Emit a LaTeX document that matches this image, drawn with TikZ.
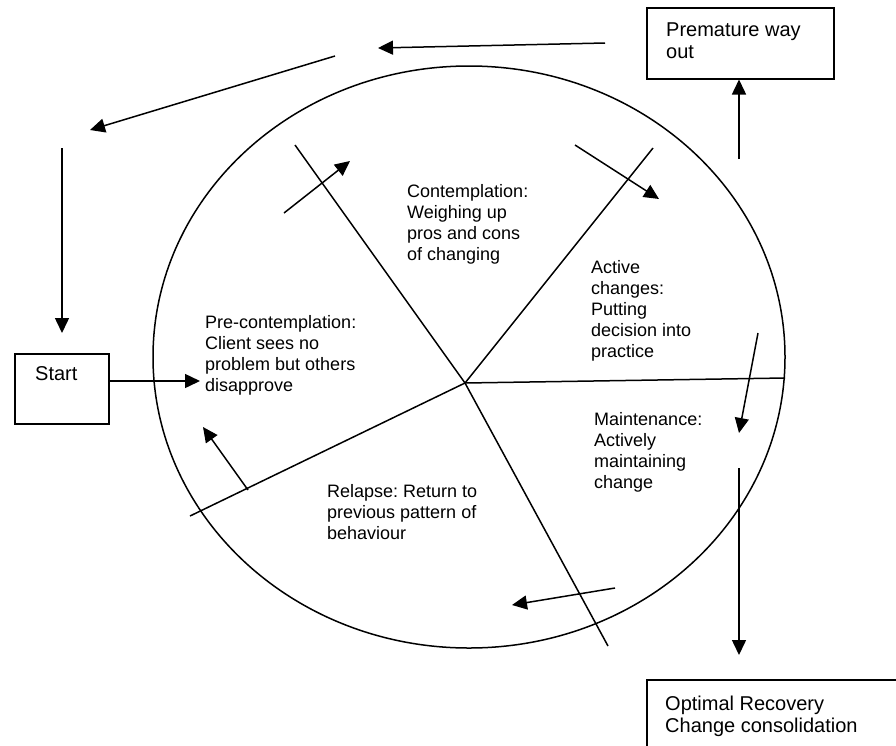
\documentclass[tikz,border=0pt]{standalone}
\usepackage{fontspec}
\setmainfont{Liberation Sans}
\usetikzlibrary{arrows.meta}
\frenchspacing
\tikzset{
  ln/.style={line width=1.5pt, black},
  arr/.style={ln, -{Triangle[length=15pt,width=14pt]}},
  boxshape/.style={draw, line width=1.5pt, inner sep=0pt, anchor=north west},
  lbl/.style={anchor=base west, inner sep=0pt, font=\fontsize{18}{21}\selectfont},
  blbl/.style={anchor=base west, inner sep=0pt, font=\fontsize{20}{22.5}\selectfont},
}
\newcommand{\lines}[1]{\begin{tabular}[t]{@{}l@{}}#1\end{tabular}}
\begin{document}
\begin{tikzpicture}[x=1pt,y=-1pt]
\useasboundingbox (0,0) rectangle (896,745);
\clip (0,0) rectangle (896,745);
\fill[white] (0,0) rectangle (896,745);

% circle
\draw[ln] (469,357) ellipse [x radius=316pt, y radius=291pt];

% spokes
\coordinate (hub) at (465,383);
\coordinate (sUL) at (295,145);
\coordinate (sUR) at (653,148);
\coordinate (sR) at (785,378);
\coordinate (sLL) at (190,516);
\coordinate (sLR) at (608,646);
\draw[ln] (sUL) -- (hub) -- (sLR);
\draw[ln] (sUR) -- (hub);
\draw[ln] (sR) -- (hub);
\draw[ln] (sLL) -- (hub);

% boxes
\node[boxshape, minimum width=187pt, minimum height=71pt] (premature) at (646,7) {};
\node[blbl] (prematuretxt) at (666,36) {\lines{Premature way\\ out}};
\node[boxshape, minimum width=94pt, minimum height=70pt] (start) at (14,353) {};
\node[blbl] (starttxt) at (35,380) {Start};
\node[boxshape, minimum width=300pt, minimum height=120pt] (optimal) at (646,679) {};
\node[blbl] (optimaltxt) at (665,710) {\lines{Optimal Recovery\\ Change consolidation}};

% stage labels
\node[lbl] (contemp) at (407,197) {\lines{Contemplation:\\ Weighing up\\ pros and cons\\ of changing}};
\node[lbl] (precontemp) at (205,328) {\lines{Pre-contemplation:\\ Client sees no\\ problem but others\\ disapprove}};
\node[lbl] (active) at (591,273) {\lines{Active\\ changes:\\ Putting\\ decision into\\ practice}};
\node[lbl] (maint) at (594,425) {\lines{Maintenance:\\ Actively\\ maintaining\\ change}};
\node[lbl] (relapse) at (327,497) {\lines{Relapse: Return to\\ previous pattern of\\ behaviour}};

% arrow end points
\coordinate (a1) at (605,43);  \coordinate (a2) at (378,48);
\coordinate (b1) at (335,56);  \coordinate (b2) at (90,130);
\coordinate (c1) at (62,148);  \coordinate (c2) at (62,333);
\coordinate (d2) at (200,381);
\coordinate (e1) at (284,213); \coordinate (e2) at (350,161);
\coordinate (f1) at (575,145); \coordinate (f2) at (659,199);
\coordinate (g1) at (758,333); \coordinate (g2) at (739,433);
\coordinate (h1) at (739,468); \coordinate (h2) at (739,655);
\coordinate (i1) at (739,159);
\coordinate (j1) at (615,588); \coordinate (j2) at (512,605);
\coordinate (k1) at (248,490); \coordinate (k2) at (203,427);

\draw[arr] (a1) -- (a2);
\draw[arr] (b1) -- (b2);
\draw[arr] (c1) -- (c2);
\draw[arr] (start.east |- d2) -- (d2);
\draw[arr] (e1) -- (e2);
\draw[arr] (f1) -- (f2);
\draw[arr] (g1) -- (g2);
\draw[arr] (h1) -- (h2);
\draw[arr] (i1) -- (i1 |- premature.south);
\draw[arr] (j1) -- (j2);
\draw[arr] (k1) -- (k2);
\end{tikzpicture}
\end{document}
